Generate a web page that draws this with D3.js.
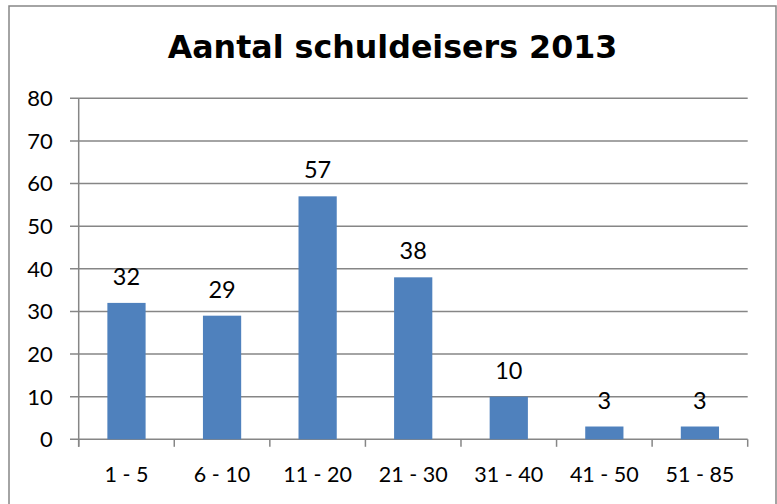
<!DOCTYPE html>
<html>
<head>
<meta charset="utf-8">
<script src="https://cdn.jsdelivr.net/npm/d3@7"></script>
<style>
  body { margin: 0; background: #fff; }
  svg { display: block; }
</style>
</head>
<body>
<div id="chart"></div>
<script>
// data
var categories = ["1 - 5", "6 - 10", "11 - 20", "21 - 30", "31 - 40", "41 - 50", "51 - 85"];
var values = [32, 29, 57, 38, 10, 3, 3];
var yTicks = [0, 10, 20, 30, 40, 50, 60, 70, 80];
var title = "Aantal schuldeisers 2013";

var width = 777, height = 504;
var margin = {left: 78.7, right: 777 - 747.7, top: 98.3, bottom: 504 - 439.3};
var innerW = width - margin.left - margin.right,
    innerH = height - margin.top - margin.bottom;

var axisColor = "#868686";

var svg = d3.select("#chart").append("svg")
    .attr("width", width)
    .attr("height", height);

// chart frame
svg.append("rect")
    .attr("x", 9)
    .attr("y", 6)
    .attr("width", 767)
    .attr("height", 520)
    .attr("fill", "none")
    .attr("stroke", axisColor)
    .attr("stroke-width", 1.5);

svg.append("text")
    .attr("x", 392.5)
    .attr("y", 58)
    .attr("text-anchor", "middle")
    .style("font-family", "'DejaVu Sans', Verdana, sans-serif")
    .style("font-weight", "bold")
    .style("font-size", "31.7px")
    .style("fill", "#000")
    .text(title);

var g = svg.append("g")
    .attr("transform", "translate(" + margin.left + "," + margin.top + ")");

var x = d3.scaleBand()
    .domain(categories)
    .range([0, innerW])
    .paddingInner(0)
    .paddingOuter(0);

var y = d3.scaleLinear()
    .domain([0, 80])
    .range([innerH, 0]);

// gridlines + y ticks
g.selectAll(".grid")
    .data(yTicks)
    .enter()
    .append("line")
    .attr("class", "grid")
    .attr("x1", -8.7)
    .attr("x2", innerW)
    .attr("y1", d => y(d))
    .attr("y2", d => y(d))
    .attr("stroke", axisColor)
    .attr("stroke-width", 1.5);

g.selectAll(".ylab")
    .data(yTicks)
    .enter()
    .append("text")
    .attr("class", "ylab")
    .attr("x", -26)
    .attr("y", d => y(d))
    .attr("dy", "0.36em")
    .attr("text-anchor", "end")
    .style("font-family", "Lato, sans-serif")
    .style("font-size", "22px")
    .style("fill", "#000")
    .text(d => d);

// bars
var barW = x.bandwidth() * 0.4;
g.selectAll(".bar")
    .data(values)
    .enter()
    .append("rect")
    .attr("class", "bar")
    .attr("x", (d, i) => x(categories[i]) + (x.bandwidth() - barW) / 2)
    .attr("y", d => y(d))
    .attr("width", barW)
    .attr("height", d => innerH - y(d))
    .attr("fill", "#4f81bd");

// value labels
g.selectAll(".vlab")
    .data(values)
    .enter()
    .append("text")
    .attr("class", "vlab")
    .attr("x", (d, i) => x(categories[i]) + x.bandwidth() / 2)
    .attr("y", d => y(d) - 18)
    .attr("text-anchor", "middle")
    .style("font-family", "Lato, sans-serif")
    .style("font-size", "23.5px")
    .style("fill", "#000")
    .text(d => d);

// axes lines
g.append("line")
    .attr("x1", 0).attr("x2", 0)
    .attr("y1", 0).attr("y2", innerH + 7.5)
    .attr("stroke", axisColor)
    .attr("stroke-width", 1.5);

var bounds = categories.map(c => x(c)).concat([innerW]);
g.selectAll(".xtick")
    .data(bounds)
    .enter()
    .append("line")
    .attr("class", "xtick")
    .attr("x1", d => d).attr("x2", d => d)
    .attr("y1", innerH).attr("y2", innerH + 7.5)
    .attr("stroke", axisColor)
    .attr("stroke-width", 1.5);

g.selectAll(".xlab")
    .data(categories)
    .enter()
    .append("text")
    .attr("class", "xlab")
    .attr("x", d => x(d) + x.bandwidth() / 2)
    .attr("y", innerH + 43)
    .attr("text-anchor", "middle")
    .style("font-family", "Lato, sans-serif")
    .style("font-size", "21.5px")
    .style("fill", "#000")
    .text(d => d);
</script>
</body>
</html>
